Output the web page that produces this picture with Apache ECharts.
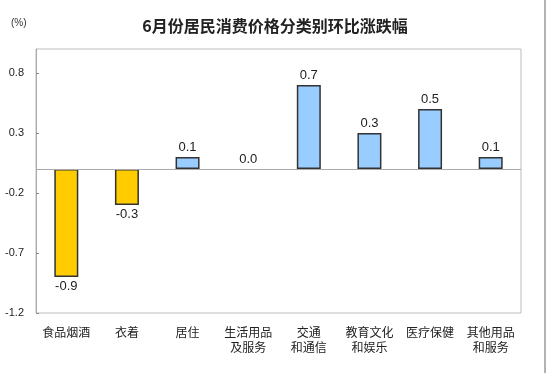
<!DOCTYPE html>
<html>
<head>
<meta charset="utf-8">
<script src="https://cdn.jsdelivr.net/npm/echarts@6/dist/echarts.min.js"></script>
<style>html,body{margin:0;padding:0;background:#fff;}#c{width:550px;height:373px;}</style>
</head>
<body>
<div id="c"></div>
<script>
const categories = ['食品烟酒', '衣着', '居住', '生活用品\n及服务', '交通\n和通信', '教育文化\n和娱乐', '医疗保健', '其他用品\n和服务'];
const values = [-0.9, -0.3, 0.1, 0.0, 0.7, 0.3, 0.5, 0.1];
const yTicks = [-1.2, -0.7, -0.2, 0.3, 0.8];
const titleText = '6月份居民消费价格分类别环比涨跌幅';
const unitText = '(%)';

const chart = echarts.init(document.getElementById('c'), null, {renderer: 'canvas'});
const fontCJK = '"Noto Sans CJK SC", "Liberation Sans", sans-serif';
const fontNum = '"Liberation Sans", Arial, sans-serif';

const seriesData = values.map(v => ({
  value: v,
  itemStyle: {color: v < 0 ? '#FFCC00' : '#99CCFF', borderWidth: v === 0 ? 0 : 1.5},
  label: {position: v < 0 ? 'bottom' : 'top'}
}));

chart.setOption({
  animation: false,
  backgroundColor: '#ffffff',
  title: {
    text: titleText,
    left: 'center',
    top: 13,
    textStyle: {fontFamily: fontCJK, fontSize: 16, fontWeight: 'bold', color: '#222'}
  },
  graphic: [
    {type: 'text', left: 11, top: 18, style: {text: unitText, fontFamily: fontNum, fontSize: 10, fill: '#333'}},
    {type: 'line', shape: {x1: 545, y1: 0, x2: 545, y2: 373}, style: {stroke: '#666', lineWidth: 1}}
  ],
  grid: {
    left: 36, right: 29, top: 49, bottom: 60,
    show: true, borderColor: '#bdbdbd', borderWidth: 1, backgroundColor: 'transparent'
  },
  xAxis: {
    type: 'category',
    data: categories,
    axisLine: {show: false},
    axisTick: {show: false},
    axisLabel: {
      margin: 12, interval: 0,
      fontFamily: fontCJK, fontSize: 12, lineHeight: 15, color: '#222'
    }
  },
  yAxis: {
    type: 'value',
    min: -1.2,
    max: 1.0,
    splitLine: {show: false},
    axisLine: {show: true, lineStyle: {color: '#aaaaaa'}},
    axisTick: {show: true, inside: true, length: 3, lineStyle: {color: '#888'}, customValues: yTicks},
    axisLabel: {
      customValues: yTicks,
      margin: 12,
      fontFamily: fontNum, fontSize: 11, color: '#222',
      formatter: v => v.toFixed(1)
    }
  },
  series: [{
    type: 'bar',
    data: seriesData,
    barWidth: 24,
    itemStyle: {borderColor: '#333', borderWidth: 1.5},
    label: {
      show: true,
      distance: 3,
      fontFamily: fontNum, fontSize: 13, color: '#222',
      formatter: p => p.value.toFixed(1)
    },
    markLine: {
      silent: true,
      symbol: 'none',
      label: {show: false},
      lineStyle: {color: '#aaaaaa', type: 'solid', width: 1},
      data: [{yAxis: 0}]
    }
  }]
});
</script>
</body>
</html>
